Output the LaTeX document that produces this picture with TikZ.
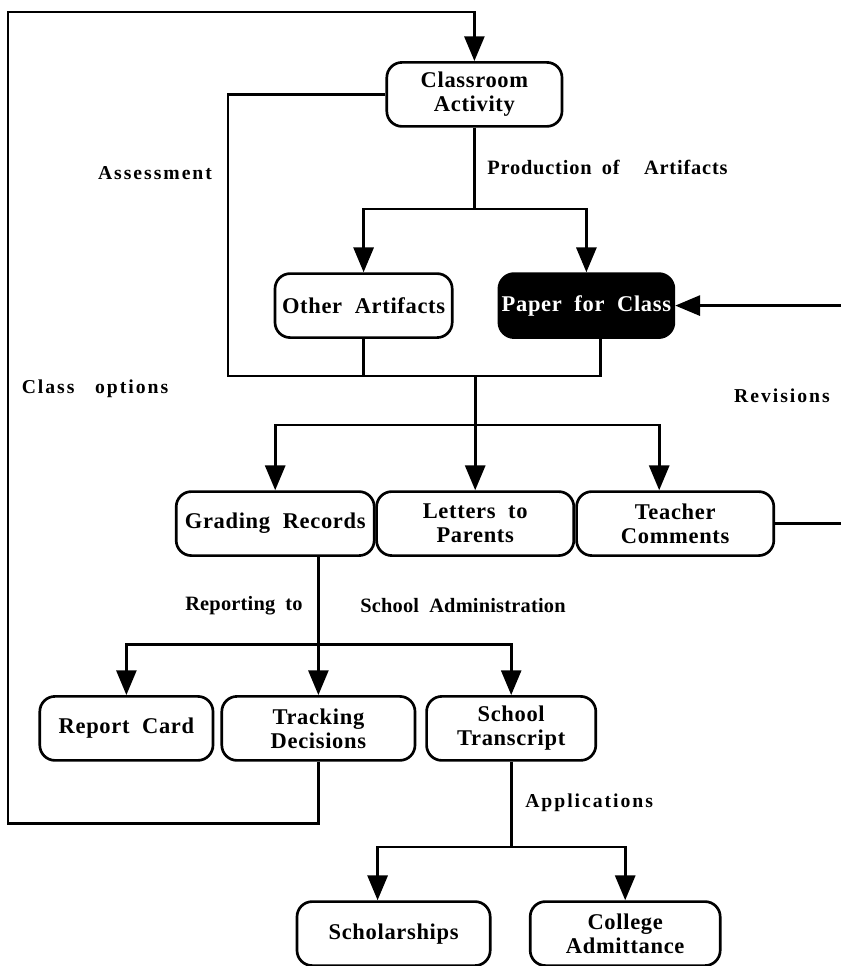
\documentclass[tikz,border=0pt]{standalone}
\usepackage{fontspec}
\setmainfont{Liberation Serif}
\usepackage{tikz}
\usetikzlibrary{arrows.meta, positioning, calc}

\tikzset{
  box/.style={draw, line width=1.9pt, rounded corners=0.38cm, align=center,
    minimum height=1.6cm, inner sep=2pt,
    font=\fontsize{16}{17}\selectfont\bfseries\addfontfeatures{LetterSpace=3}},
  darkbox/.style={box, fill=black, text=white},
  link/.style={line width=2pt},
  arr/.style={link, -{Triangle[width=0.5cm,length=0.62cm]}},
  note/.style={inner sep=0pt,
    font=\fontsize{14.5}{16}\selectfont\bfseries\addfontfeatures{LetterSpace=1}},
  spacednote/.style={inner sep=0pt,
    font=\fontsize{14}{16}\selectfont\bfseries\addfontfeatures{LetterSpace=10}}
}

\begin{document}
\begin{tikzpicture}
  \useasboundingbox (0,0) rectangle (21.025,24.15);

  % Boxes
  \node[box, minimum width=4.38cm] (act) at (11.86,21.79) {Classroom\\Activity};
  \node[box, minimum width=4.43cm] (other) at (9.09,16.51) {Other\ \ Artifacts};
  \node[darkbox, minimum width=4.33cm] (paper) at (14.66,16.51) {Paper\ \ for\ \ Class};
  \node[box, minimum width=4.95cm] (grade) at (6.88,11.06) {Grading\ \ Records};
  \node[box, minimum width=4.93cm] (letters) at (11.88,11.06) {Letters\ \ to\\Parents};
  \node[box, minimum width=4.93cm] (teacher) at (16.88,11.06) {Teacher\\Comments};
  \node[box, minimum width=4.33cm] (report) at (3.16,5.94) {Report\ \ Card};
  \node[box, minimum width=4.83cm] (track) at (7.96,5.94) {Tracking\\Decisions};
  \node[box, minimum width=4.23cm] (trans) at (12.78,5.94) {School\\Transcript};
  \node[box, minimum width=4.83cm] (schol) at (9.84,0.81) {Scholarships};
  \node[box, minimum width=4.75cm] (college) at (15.63,0.81) {College\\Admittance};

  % Free ends
  \coordinate (mergeL) at (5.7,14.75);
  \coordinate (edgeUp) at (21.025,16.51);

  % Class options loop
  \draw[arr] (track.south) -- ++(0,-1.55) -| (0.2,23.85) -| (act.north);

  % Production of artifacts
  \draw[link] (act.south) -- ++(0,-2.03) coordinate (prodJ);
  \draw[arr] (prodJ) -| (other.north);
  \draw[arr] (prodJ) -| (paper.north);

  % Assessment and artifacts merge
  \draw[link] (act.west) -| (mergeL) -| ([xshift=0.35cm]paper.south);
  \draw[link] (other.south) -- (other.south |- mergeL);
  \draw[link] (letters.north |- mergeL) -- ++(0,-1.225) coordinate (distJ);
  \draw[arr] (distJ) -| (grade.north);
  \draw[arr] (distJ) -- (letters.north);
  \draw[arr] (distJ) -| ([xshift=-0.4cm]teacher.north);

  % Revisions
  \draw[link] (teacher.east) -- (teacher.east -| edgeUp);
  \draw[arr] (edgeUp) -- (paper.east);

  % Reporting to school administration
  \draw[link] (grade.south -| track.north) -- ++(0,-2.18) coordinate (repJ);
  \draw[arr] (repJ) -| (report.north);
  \draw[arr] (repJ) -- (track.north);
  \draw[arr] (repJ) -| (trans.north);

  % Applications
  \draw[link] (trans.south) -- ++(0,-2.13) coordinate (appJ);
  \draw[arr] (appJ) -| ([xshift=-0.4cm]schol.north);
  \draw[arr] (appJ) -| (college.north);

  % Labels
  \node[spacednote] (assess) at (3.875,19.825) {Assessment};
  \node[note, anchor=west] (prod) at (12.175,19.975)
    {\addfontfeatures{LetterSpace=4}Production\hspace{0.5em}of\hspace{1.2em}Artifacts};
  \node[spacednote] (opts) at (2.375,14.425) {Class\ \ \ options};
  \node[spacednote] (revis) at (19.55,14.25) {Revisions};
  \node[note] (reptxt) at (6.1,9.0) {Reporting\hspace{0.5em}to};
  \node[note] (admin) at (11.575,9.0) {School\hspace{0.5em}Administration};
  \node[spacednote, anchor=west] (appl) at (13.125,4.075) {Applications};
\end{tikzpicture}
\end{document}
